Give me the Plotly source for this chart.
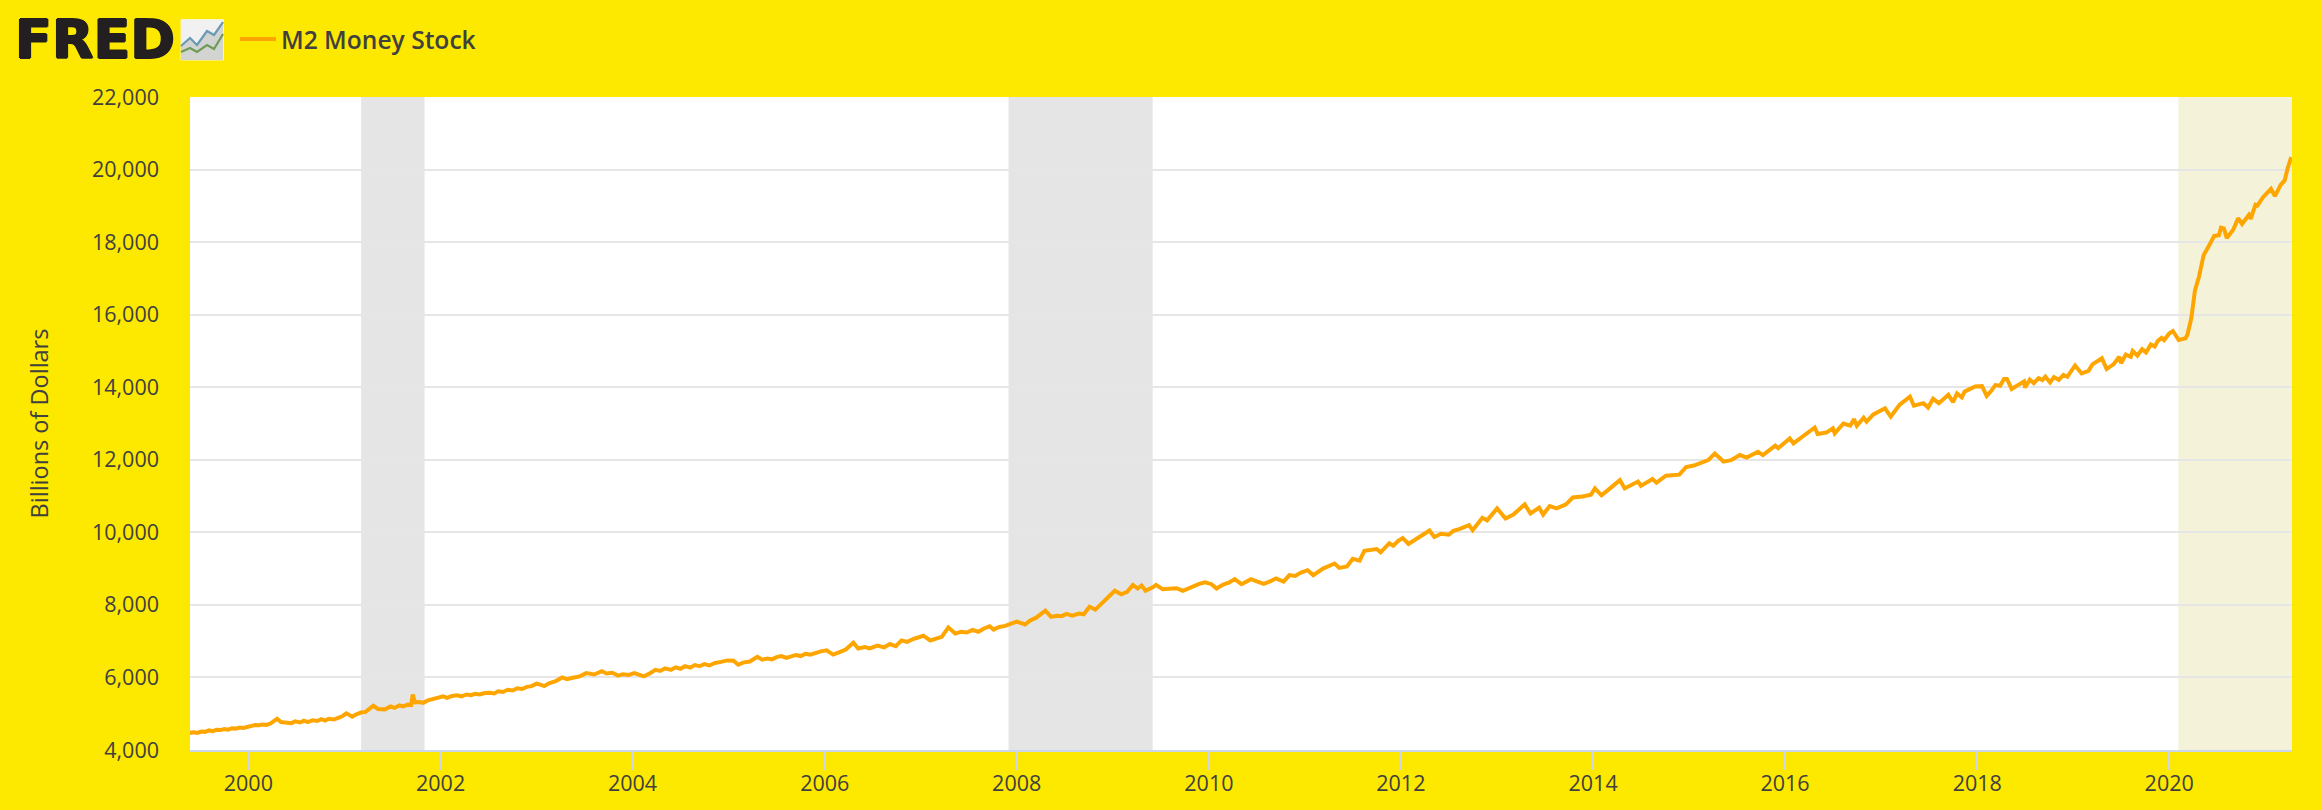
import datetime as dt
import plotly.graph_objects as go

SERIES_NAME = "M2 Money Stock"
Y_TITLE = "Billions of Dollars"
Y_TICKS = [4000, 6000, 8000, 10000, 12000, 14000, 16000, 18000, 20000, 22000]
X_START, X_END = "1999-05-24", "2021-04-12"
RECESSIONS = [("2001-03-05", "2001-11-01"), ("2007-12-01", "2009-06-01")]
COVID_START = "2020-02-05"

YEARS_1999_2001 = [1999.39,1999.43,1999.47,1999.51,1999.55,1999.59,1999.63,1999.67,1999.71,1999.75,1999.79,1999.83,1999.87,1999.91,1999.95,1999.99,
 2000.03,2000.07,2000.11,2000.15,2000.19,2000.23,2000.27,2000.30,2000.34,2000.40,2000.45,2000.49,2000.54,2000.58,2000.62,2000.67,2000.72,2000.76,2000.80,2000.84,2000.89,2000.93,2000.98,
 2001.02,2001.08,2001.13,2001.18,2001.22,2001.30,2001.35,2001.42,2001.48,2001.52,2001.57,2001.61,2001.66,2001.695,2001.71,2001.735,2001.78,2001.82,2001.87,2001.92,2001.97]
M2_1999_2001 = [4470,4490,4470,4510,4500,4540,4520,4560,4550,4580,4560,4600,4590,4620,4610,4650,
 4660,4690,4680,4700,4690,4730,4790,4860,4770,4750,4740,4790,4760,4810,4770,4820,4800,4850,4810,4860,4840,4880,4930,
 5010,4920,4990,5040,5050,5220,5130,5120,5200,5160,5230,5200,5250,5240,5530,5310,5320,5300,5370,5400,5440]

YEARS_2002_2005 = [2002.03,2002.07,2002.12,2002.17,2002.22,2002.27,2002.32,2002.36,2002.41,2002.46,2002.51,2002.56,2002.60,2002.65,2002.70,2002.75,2002.80,2002.85,2002.90,2002.95,
 2003.00,2003.04,2003.08,2003.13,2003.20,2003.27,2003.32,2003.38,2003.45,2003.52,2003.60,2003.68,2003.73,2003.79,2003.85,2003.90,2003.96,
 2004.02,2004.08,2004.12,2004.18,2004.24,2004.29,2004.34,2004.40,2004.45,2004.50,2004.55,2004.60,2004.65,2004.70,2004.75,2004.80,2004.86,2004.92,2004.99,
 2005.05,2005.10,2005.15,2005.22,2005.30,2005.35,2005.40,2005.45,2005.50,2005.55,2005.60,2005.65,2005.70,2005.75,2005.80,2005.85,2005.90,2005.96]
M2_2002_2005 = [5480,5440,5490,5510,5480,5530,5510,5550,5530,5570,5580,5560,5620,5600,5660,5640,5700,5680,5740,5760,
 5830,5800,5760,5840,5900,6000,5950,5990,6030,6120,6080,6170,6110,6130,6050,6090,6070,
 6120,6080,6030,6110,6210,6180,6250,6210,6280,6240,6310,6270,6340,6310,6370,6330,6400,6430,6470,
 6460,6350,6410,6440,6570,6490,6520,6500,6560,6590,6540,6590,6620,6590,6650,6630,6680,6720]

YEARS_2006_2008 = [2006.02,2006.09,2006.15,2006.22,2006.30,2006.35,2006.42,2006.47,2006.55,2006.62,2006.68,2006.74,2006.80,2006.86,2006.92,2007.03,2007.10,2007.15,2007.22,2007.29,2007.36,2007.42,2007.48,2007.54,2007.60,2007.66,2007.72,2007.76,2007.82,2007.88,2007.93,
 2008.00,2008.09,2008.14,2008.20,2008.26,2008.30,2008.36,2008.42,2008.47,2008.52,2008.58,2008.65,2008.70,2008.76,2008.82,2008.88,2008.97]
M2_2006_2008 = [6750,6630,6690,6770,6960,6800,6840,6800,6880,6830,6920,6860,7020,6980,7060,7150,7020,7060,7120,7380,7210,7260,7240,7310,7260,7350,7410,7320,7390,7420,7460,
 7540,7460,7570,7640,7740,7840,7670,7700,7690,7750,7700,7760,7740,7950,7870,8020,8270]

YEARS_2009_2011 = [2009.02,2009.09,2009.15,2009.21,2009.26,2009.30,2009.34,2009.42,2009.45,2009.52,2009.58,2009.66,2009.73,2009.80,2009.90,2009.96,2010.03,2010.08,2010.15,2010.21,2010.27,2010.34,2010.44,2010.50,2010.57,2010.64,2010.70,2010.78,2010.84,2010.90,2010.96,
 2011.03,2011.09,2011.19,2011.31,2011.36,2011.44,2011.50,2011.57,2011.62,2011.70,2011.75,2011.79,2011.88,2011.92,2011.97]
M2_2009_2011 = [8390,8290,8360,8550,8450,8535,8390,8490,8550,8430,8450,8460,8390,8480,8580,8625,8570,8450,8560,8610,8710,8570,8710,8650,8580,8650,8730,8640,8820,8800,8890,
 8955,8820,9000,9140,9020,9060,9270,9220,9490,9530,9540,9450,9700,9630,9760]

YEARS_2012_2014 = [2012.02,2012.08,2012.14,2012.20,2012.30,2012.35,2012.42,2012.50,2012.55,2012.61,2012.71,2012.75,2012.85,2012.90,2013.00,2013.09,2013.17,2013.29,2013.35,2013.44,2013.48,2013.55,2013.62,2013.72,2013.79,2013.89,2013.98,2014.02,2014.09,2014.15,2014.28,2014.33,2014.47,2014.50,2014.62,2014.66,2014.76,2014.90,2014.97]
M2_2012_2014 = [9840,9680,9780,9880,10050,9870,9960,9935,10040,10090,10200,10060,10400,10330,10660,10380,10490,10770,10520,10680,10490,10725,10660,10770,10960,10990,11040,11210,11020,11150,11440,11210,11400,11280,11470,11370,11560,11590,11800]

YEARS_2015_2017 = [2015.05,2015.12,2015.20,2015.27,2015.36,2015.44,2015.53,2015.60,2015.72,2015.77,2015.90,2015.93,2016.05,2016.09,2016.22,2016.31,2016.34,2016.43,2016.50,2016.52,2016.61,2016.68,2016.72,2016.75,2016.82,2016.85,2016.92,2017.04,2017.10,2017.19,2017.30,2017.34,2017.44,2017.49,2017.54,2017.60,2017.70,2017.75,2017.79,2017.84,2017.87,2017.98]
M2_2015_2017 = [11840,11910,11990,12170,11950,11990,12130,12060,12220,12130,12390,12320,12590,12450,12700,12890,12710,12750,12870,12730,13000,12940,13120,12940,13160,13050,13250,13420,13190,13510,13740,13490,13560,13440,13680,13560,13790,13590,13830,13720,13880,14020]

YEARS_2018_2021 = [2018.05,2018.10,2018.14,2018.19,2018.24,2018.28,2018.31,2018.36,2018.42,2018.49,2018.50,2018.55,2018.59,2018.64,2018.68,2018.71,2018.76,2018.80,2018.85,2018.90,2018.94,2019.02,2019.09,2019.16,2019.20,2019.30,2019.35,2019.42,2019.48,2019.50,2019.55,2019.60,2019.62,2019.67,2019.72,2019.76,2019.81,2019.85,2019.88,2019.92,2019.95,2020.00,2020.04,2020.10,2020.17,2020.19,2020.23,2020.27,2020.31,2020.36,2020.41,2020.47,2020.52,2020.54,2020.57,2020.60,2020.67,2020.72,2020.76,2020.83,2020.85,2020.90,2020.92,2020.98,2021.06,2021.10,2021.16,2021.20,2021.23,2021.27]
M2_2018_2021 = [14030,13760,13880,14060,14040,14230,14230,13950,14050,14160,13990,14210,14110,14250,14200,14290,14130,14280,14200,14340,14290,14600,14380,14450,14630,14800,14500,14630,14840,14660,14900,14840,15000,14870,15050,14960,15180,15120,15270,15360,15300,15480,15550,15300,15350,15440,15900,16670,17040,17640,17870,18170,18190,18400,18380,18110,18350,18660,18500,18750,18640,19030,19010,19240,19470,19270,19580,19700,20020,20340]

READ_YEARS = YEARS_1999_2001 + YEARS_2002_2005 + YEARS_2006_2008 + YEARS_2009_2011 + YEARS_2012_2014 + YEARS_2015_2017 + YEARS_2018_2021
M2_VALUES = M2_1999_2001 + M2_2002_2005 + M2_2006_2008 + M2_2009_2011 + M2_2012_2014 + M2_2015_2017 + M2_2018_2021
assert len(READ_YEARS) == len(M2_VALUES), (len(READ_YEARS), len(M2_VALUES))


def year_to_date(y):
    yr = int(y)
    return (dt.datetime(yr, 1, 1) + dt.timedelta(days=(y - yr) * 365.25)).strftime("%Y-%m-%d")


dates = [year_to_date(y) for y in READ_YEARS]

W, H = 2322, 810
L, R, T, B = 190, 30, 97, 60
PW, PH = W - L - R, H - T - B
YELLOW = "#fde800"
TEXT = "#404040"
LINE = "#ffa500"


def px(x):
    return (x - L) / PW


def py(y):
    return 1 - (y - T) / PH


fig = go.Figure(go.Scatter(x=dates, y=M2_VALUES, mode="lines", name=SERIES_NAME,
                           line=dict(color=LINE, width=4), hoverinfo="x+y"))

shapes = [dict(type="rect", xref="x", yref="paper", x0=a, x1=b, y0=0, y1=1, layer="between",
               fillcolor="#e5e5e5", line_width=0) for a, b in RECESSIONS]
shapes.append(dict(type="rect", xref="x", yref="paper", x0=COVID_START, x1=X_END, y0=0, y1=1,
                   layer="below", fillcolor="#f4f3d9", line_width=0))


def logo_path(points):
    return "M" + " L".join(f"{px(a):.5f},{py(b):.5f}" for a, b in points)


# FRED logo icon
shapes += [
    dict(type="rect", xref="paper", yref="paper", x0=px(181), x1=px(223.5), y0=py(60), y1=py(19.5),
         fillcolor="#f1f1f1", line=dict(color="#f7f4c8", width=1), layer="above"),
    dict(type="path", xref="paper", yref="paper", layer="above", fillcolor="#d2d4d2", line_width=0,
         path=logo_path([(181, 46), (190, 38), (197, 45), (207, 31), (214, 35), (223, 23), (223, 60), (181, 60)]) + " Z"),
    dict(type="path", xref="paper", yref="paper", layer="above", line=dict(color="#6a99b4", width=2.2),
         path=logo_path([(181, 46), (190, 38), (197, 45), (207, 31), (214, 35), (223, 22)])),
    dict(type="path", xref="paper", yref="paper", layer="above", line=dict(color="#6f9a58", width=2.2),
         path=logo_path([(181, 52), (190, 48), (197, 52), (207, 45), (214, 49), (223, 34)])),
]

annotations = [
    dict(text="<b>FRED</b>", xref="paper", yref="paper", x=px(13), y=py(40), xanchor="left", yanchor="middle",
         showarrow=False,
         font=dict(family="DejaVu Sans", size=54, color="#231f20",
                   shadow="1px 0 0 #231f20, -1px 0 0 #231f20, 0 1px 0 #231f20, 0 -1px 0 #231f20")),
]

fig.update_layout(
    width=W, height=H, autosize=False,
    paper_bgcolor=YELLOW, plot_bgcolor="#ffffff",
    margin=dict(l=L, r=R, t=T, b=B, autoexpand=False),
    font=dict(family="Open Sans", color=TEXT, size=21),
    shapes=shapes, annotations=annotations, showlegend=True,
    legend=dict(x=px(235), y=py(39), xanchor="left", yanchor="middle", orientation="h",
                bgcolor="rgba(0,0,0,0)", itemwidth=36,
                font=dict(family="Open Sans", size=24.6, color=TEXT, weight=600)),
    xaxis=dict(type="date", range=[X_START, X_END], tick0="2000-01-01", dtick="M24", tickformat="%Y",
               showgrid=False, showline=True, linecolor="#ccd6eb", linewidth=2,
               ticks="outside", ticklen=18, tickwidth=2, tickcolor="#ccd6eb", ticklabelstandoff=-5,
               tickfont=dict(size=21.5, color=TEXT)),
    yaxis=dict(range=[4000, 22000], tickvals=Y_TICKS, tickformat=",d", showgrid=True, gridcolor="#e6e6e6",
               gridwidth=2, zeroline=False, ticks="", showline=False, ticklabelstandoff=30,
               title=dict(text=Y_TITLE, font=dict(size=23.5, color=TEXT), standoff=36),
               tickfont=dict(size=21.5, color=TEXT)),
)

fig.write_html("out.html", config=dict(displayModeBar=False),
               post_script=f"document.body.style.margin='0';document.body.style.background='{YELLOW}';")
